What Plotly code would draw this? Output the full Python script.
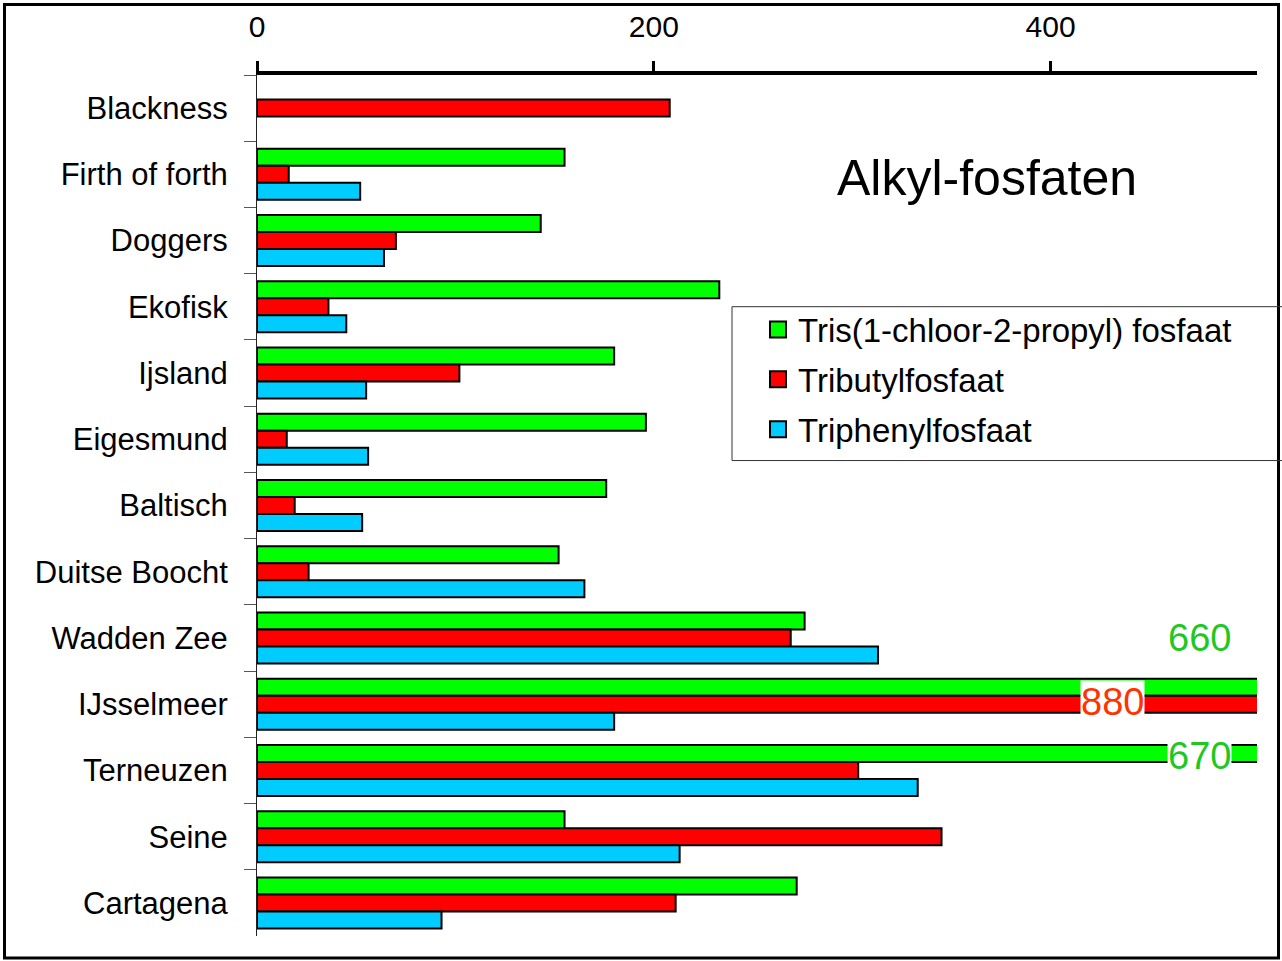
import plotly.graph_objects as go

# Sampling sites, top to bottom
sites = ["Blackness", "Firth of forth", "Doggers", "Ekofisk", "Ijsland", "Eigesmund",
         "Baltisch", "Duitse Boocht", "Wadden Zee", "IJsselmeer", "Terneuzen", "Seine", "Cartagena"]

# Concentrations per compound (None = not measured)
tcpp = [None, 155, 143, 233, 180, 196, 176, 152, 276, 660, 670, 155, 272]
tbp = [208, 16, 70, 36, 102, 15, 19, 26, 269, 880, 303, 345, 211]
tphp = [None, 52, 64, 45, 55, 56, 53, 165, 313, 180, 333, 213, 93]

series_names = ["Tris(1-chloor-2-propyl) fosfaat", "Tributylfosfaat", "Triphenylfosfaat"]
series_values = [tcpp, tbp, tphp]
series_colors = ["#00FF00", "#FF0000", "#00CCFF"]

x_ticks = [0, 200, 400]
x_max = 504

FONT = "Liberation Sans, Arial, sans-serif"

fig = go.Figure()
for name, vals, col in zip(series_names, series_values, series_colors):
    fig.add_trace(go.Bar(
        y=sites, x=vals, orientation="h", name=name,
        marker=dict(color=col, line=dict(color="black", width=2)),
        showlegend=False,
    ))
# Legend entries with larger square swatches
for i, (name, col) in enumerate(zip(series_names, series_colors)):
    fig.add_trace(go.Scatter(
        x=[None], y=[None], mode="markers", name=name, legendgroup=f"g{i}",
        marker=dict(symbol="square", size=16, color=col, line=dict(color="black", width=2)),
    ))

# Value labels for bars that run past the axis end
overflow = [
    (tcpp[sites.index("IJsselmeer")], "Wadden Zee", 475, 0, "#1EC81E", None),
    (tbp[sites.index("IJsselmeer")], "IJsselmeer", 431, 2, "#FF3300", "white"),
    (tcpp[sites.index("Terneuzen")], "Terneuzen", 475, 14, "#1EC81E", "white"),
]
for val, site, xpos, ys, col, bg in overflow:
    fig.add_annotation(
        x=xpos, y=site, xref="x", yref="y", text=str(val), showarrow=False,
        xanchor="center", yanchor="middle",
        yshift=ys, font=dict(family=FONT, size=38, color=col),
        bgcolor=bg, borderpad=0,
    )

fig.add_annotation(
    x=0.73, y=0.8805, xref="paper", yref="paper", text="Alkyl-fosfaten",
    xanchor="center", yanchor="middle",
    showarrow=False, font=dict(family=FONT, size=50, color="black"),
)

# Outer frame and legend frame
fig.add_shape(type="rect", xref="paper", yref="paper",
              x0=-0.2525, x1=1.0215, y0=-0.0255, y1=1.0818,
              line=dict(color="black", width=3), layer="above")
fig.add_shape(type="rect", xref="paper", yref="paper",
              x0=0.475, x1=1.03, y0=0.5522, y1=0.7309,
              line=dict(color="#333333", width=1), fillcolor="rgba(0,0,0,0)", layer="above")

fig.update_layout(
    width=1282, height=961,
    margin=dict(l=257, r=25, t=75, b=25),
    paper_bgcolor="white", plot_bgcolor="white",
    barmode="group", bargap=0.23, bargroupgap=0,
    font=dict(family=FONT, color="black"),
    legend=dict(
        x=0.501, y=0.737, xanchor="left", yanchor="top",
        bgcolor="rgba(0,0,0,0)", borderwidth=0,
        font=dict(family=FONT, size=33, color="black"),
        tracegroupgap=4,
    ),
    xaxis=dict(
        side="top", range=[0, x_max], tickvals=x_ticks, ticktext=[str(t) for t in x_ticks],
        showgrid=False, zeroline=False, showline=True, linewidth=4, linecolor="black",
        ticks="outside", ticklen=10, tickwidth=3, tickcolor="black", automargin=False,
        tickfont=dict(family=FONT, size=30, color="black"), ticklabelstandoff=12,
    ),
    yaxis=dict(
        type="category", autorange="reversed", categoryorder="array", categoryarray=sites,
        showgrid=False, zeroline=False, showline=True, linewidth=1, linecolor="#222222",
        ticks="outside", tickson="boundaries", ticklen=12, tickwidth=1, tickcolor="#555555",
        automargin=False,
        tickfont=dict(family=FONT, size=31, color="black"), ticklabelstandoff=22,
    ),
)

fig.write_html("out.html")
